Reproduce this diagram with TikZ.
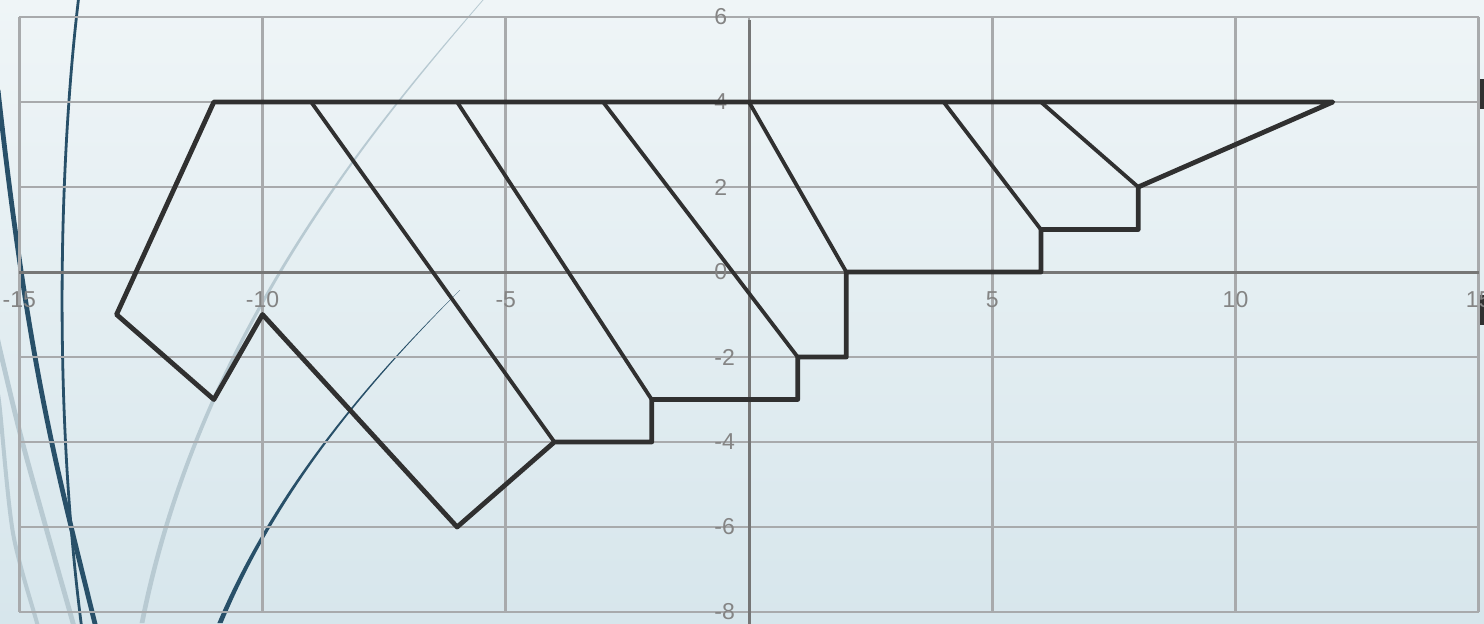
\documentclass[tikz,border=0pt]{standalone}
\usepackage{fontspec}
\setmainfont{Liberation Sans}
\definecolor{bgtop}{RGB}{239,245,247}
\definecolor{bgbot}{RGB}{215,230,236}
\definecolor{gridc}{RGB}{168,170,172}
\definecolor{axisc}{RGB}{118,118,118}
\definecolor{lblc}{RGB}{132,132,132}
\definecolor{ink}{RGB}{48,48,48}
\definecolor{decodark}{RGB}{40,80,105}
\definecolor{decolight}{RGB}{184,202,210}
\begin{document}
\begin{tikzpicture}[x=0.5pt,y=-0.5pt,
  gridline/.style={draw=gridc, line width=1.4pt},
  axisline/.style={draw=axisc, line width=1.5pt},
  lbl/.style={text=lblc, font=\fontsize{11.5}{12}\selectfont, inner sep=0pt},
  outline/.style={draw=ink, line width=2.4pt, line join=round},
  hatch/.style={draw=ink, line width=1.9pt},
  darkcurve/.style={draw=decodark},
  lightcurve/.style={draw=decolight}]
\useasboundingbox (0,0) rectangle (1484,623);
\clip (0,0) rectangle (1484,623);
\shade[top color=bgtop, bottom color=bgbot] (0,0) rectangle (1484,623);
% decorative curves
\draw[lightcurve, line width=2.4pt] plot[smooth] coordinates {(-3,335) (0,350) (20,433) (43,517) (73,623) (76,635)};
\draw[lightcurve, line width=2pt] plot[smooth] coordinates {(-2,395) (0,410) (13,533) (37,623) (40,635)};
\fill[decolight] (482.5,0) .. controls (378.5,120) and (198,330) .. (139.6,623)
  -- (144.4,623) .. controls (202,330) and (381,120) .. (483.5,0) -- cycle;
\draw[darkcurve, line width=2.4pt] (-2,90) .. controls (30,380) and (60,480) .. (97,632);
\draw[darkcurve, line width=1.4pt] (79,-5) .. controls (60,150) and (52,400) .. (82,630);
\fill[decodark] (459.9,290) .. controls (379,370) and (278.5,480) .. (217.4,623)
  -- (222.6,623) .. controls (281.5,480) and (381,370) .. (460.1,290) -- cycle;
% right edge marks
\fill[ink] (1480,79) rectangle (1485,109);
\fill[ink] (1480,295) rectangle (1485,325);
% chart
\begin{scope}[shift={(749,272)}, x=24.325pt, y=21.25pt]
  \foreach \X in {-15,-10,...,15} \draw[gridline] (\X,-8) -- (\X,6);
  \foreach \Y in {-8,-6,...,6} \draw[gridline] (-15,\Y) -- (15,\Y);
  \draw[axisline] (-15,0) -- (15,0);
  \draw[axisline] (0,-8.4) -- (0,5.93);
  \foreach \X [count=\i] in {-15,-10,-5,5,10,15} \node[lbl] (xl\i) at (\X,-0.66) {\X};
  \foreach \Y [count=\i] in {-8,-6,-4,-2,0,2,4,6} \node[lbl, anchor=west] (yl\i) at (-0.72,\Y) {\Y};
  % polygon vertices
  \coordinate (a1) at (-11,4);
  \coordinate (a2) at (12,4);
  \coordinate (a3) at (8,2);
  \coordinate (a4) at (8,1);
  \coordinate (a5) at (6,1);
  \coordinate (a6) at (6,0);
  \coordinate (a7) at (2,0);
  \coordinate (a8) at (2,-2);
  \coordinate (a9) at (1,-2);
  \coordinate (a10) at (1,-3);
  \coordinate (a11) at (-2,-3);
  \coordinate (a12) at (-2,-4);
  \coordinate (a13) at (-4,-4);
  \coordinate (a14) at (-6,-6);
  \coordinate (a15) at (-10,-1);
  \coordinate (a16) at (-11,-3);
  \coordinate (a17) at (-13,-1);
  \coordinate (t1) at (-9,4);
  \coordinate (t2) at (-6,4);
  \coordinate (t3) at (-3,4);
  \coordinate (t4) at (0,4);
  \coordinate (t5) at (4,4);
  \coordinate (t6) at (6,4);
  \draw[hatch] (t1) -- (a13);
  \draw[hatch] (t2) -- (a11);
  \draw[hatch] (t3) -- (a9);
  \draw[hatch] (t4) -- (a7);
  \draw[hatch] (t5) -- (a5);
  \draw[hatch] (t6) -- (a3);
  \draw[outline] (a1) -- (a2) -- (a3) -- (a4) -- (a5) -- (a6) -- (a7) -- (a8) -- (a9) -- (a10) -- (a11) -- (a12) -- (a13) -- (a14) -- (a15) -- (a16) -- (a17) -- cycle;
\end{scope}
\end{tikzpicture}
\end{document}
